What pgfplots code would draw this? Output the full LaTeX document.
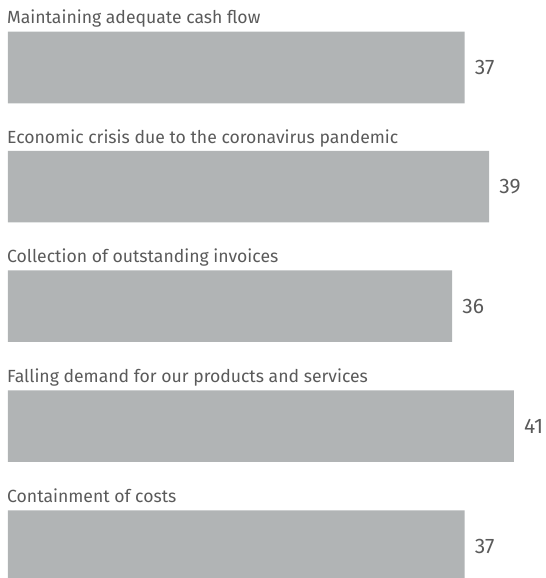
\documentclass[border=0pt]{standalone}
\usepackage{pgfplots}
\pgfplotsset{compat=1.18}
\usepackage{fontspec}
\setmainfont{Fira Sans}
\definecolor{bargray}{HTML}{B1B4B5}
\definecolor{txt}{HTML}{5A5A5A}
\tikzset{lbl/.style={anchor=base west, inner sep=0pt, xshift=-1pt, font=\fontsize{17.6}{21}\selectfont, text=txt}}
\begin{document}
\begin{tikzpicture}
\begin{axis}[
  scale only axis, width=545pt, height=578pt,
  xmin=-0.648, xmax=43.52, ymin=0, ymax=578, y dir=reverse,
  hide axis,
  xbar, bar width=71.5,
  /pgf/number format/assume math mode=true,
  nodes near coords,
  every node near coord/.append style={font=\fontsize{21}{25}\selectfont, text=txt, anchor=west, inner sep=0pt, xshift=10pt},
]
\addplot[fill=bargray, draw=none] coordinates {(37,67.5) (39,186.5) (36,306) (41,426) (37,546)};
\node[lbl] at (axis cs:0,24) {Maintaining adequate cash flow};
\node[lbl] at (axis cs:0,143) {Economic crisis due to the coronavirus pandemic};
\node[lbl] at (axis cs:0,262.5) {Collection of outstanding invoices};
\node[lbl] at (axis cs:0,382.5) {Falling demand for our products and services};
\node[lbl] at (axis cs:0,502) {Containment of costs};
\end{axis}
\pgfresetboundingbox
\path (current axis.south west) rectangle (current axis.north east);
\end{tikzpicture}
\end{document}
